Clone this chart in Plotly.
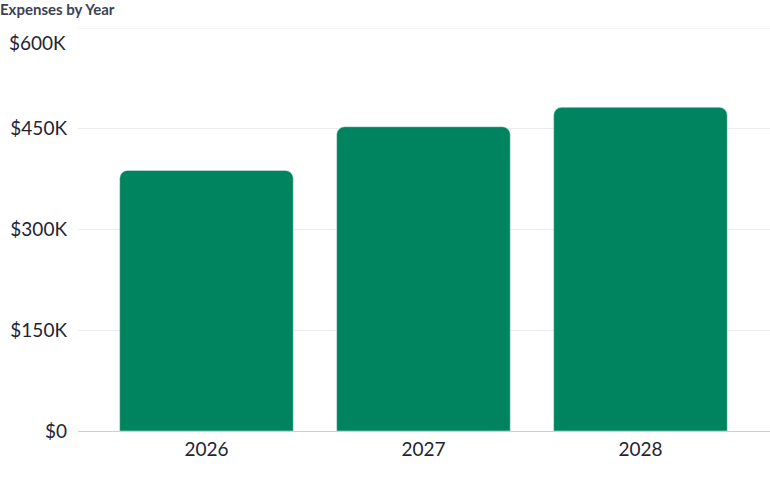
import plotly.graph_objects as go

years = ["2026", "2027", "2028"]
expenses = [388000, 453000, 482000]
tick_vals = [0, 150000, 300000, 450000, 600000]
tick_text = ["$0", "$150K", "$300K", "$450K", "$600K"]

fig = go.Figure(
    go.Bar(
        x=years,
        y=expenses,
        marker=dict(color="#00845F", cornerradius=8),
        hoverinfo="x+y",
    )
)

fig.update_layout(
    width=770,
    height=477,
    margin=dict(l=78, r=0, t=28, b=46, autoexpand=False),
    paper_bgcolor="white",
    plot_bgcolor="white",
    bargap=0.2,
    showlegend=False,
    font=dict(family="Lato, sans-serif", color="#1f2433", size=19),
    title=dict(
        text="<b>Expenses by Year</b>",
        x=0,
        xref="container",
        xanchor="left",
        y=0.99,
        yref="container",
        yanchor="top",
        font=dict(size=15, color="#3b4252"),
        pad=dict(l=0, t=0),
    ),
)

fig.update_xaxes(
    range=[-0.592, 2.597],
    showgrid=False,
    showline=False,
    ticks="",
    ticklabelstandoff=5,
    tickfont=dict(size=19),
)
# the top label sits a bit below its grid line, so it is drawn as an annotation
fig.update_yaxes(
    range=[0, 600000],
    tickvals=tick_vals[:-1],
    ticktext=tick_text[:-1],
    showgrid=True,
    gridcolor="#ebebeb",
    zeroline=True,
    zerolinecolor="#cfcfcf",
    zerolinewidth=1,
    ticks="",
    ticklabelstandoff=10,
    tickfont=dict(size=19),
)
fig.add_shape(
    type="line", xref="paper", yref="y", x0=0, x1=1,
    y0=tick_vals[-1], y1=tick_vals[-1],
    line=dict(color="#ebebeb", width=1), layer="below",
)
fig.add_annotation(
    text=tick_text[-1], xref="paper", yref="y", x=0, y=tick_vals[-1],
    xanchor="right", yanchor="middle", xshift=-10, yshift=-14,
    showarrow=False, font=dict(size=19, color="#1f2433"),
)

fig.write_html(
    "out.html",
    config={"displayModeBar": False},
    post_script="document.body.style.margin='0';document.body.style.overflow='hidden';",
)
